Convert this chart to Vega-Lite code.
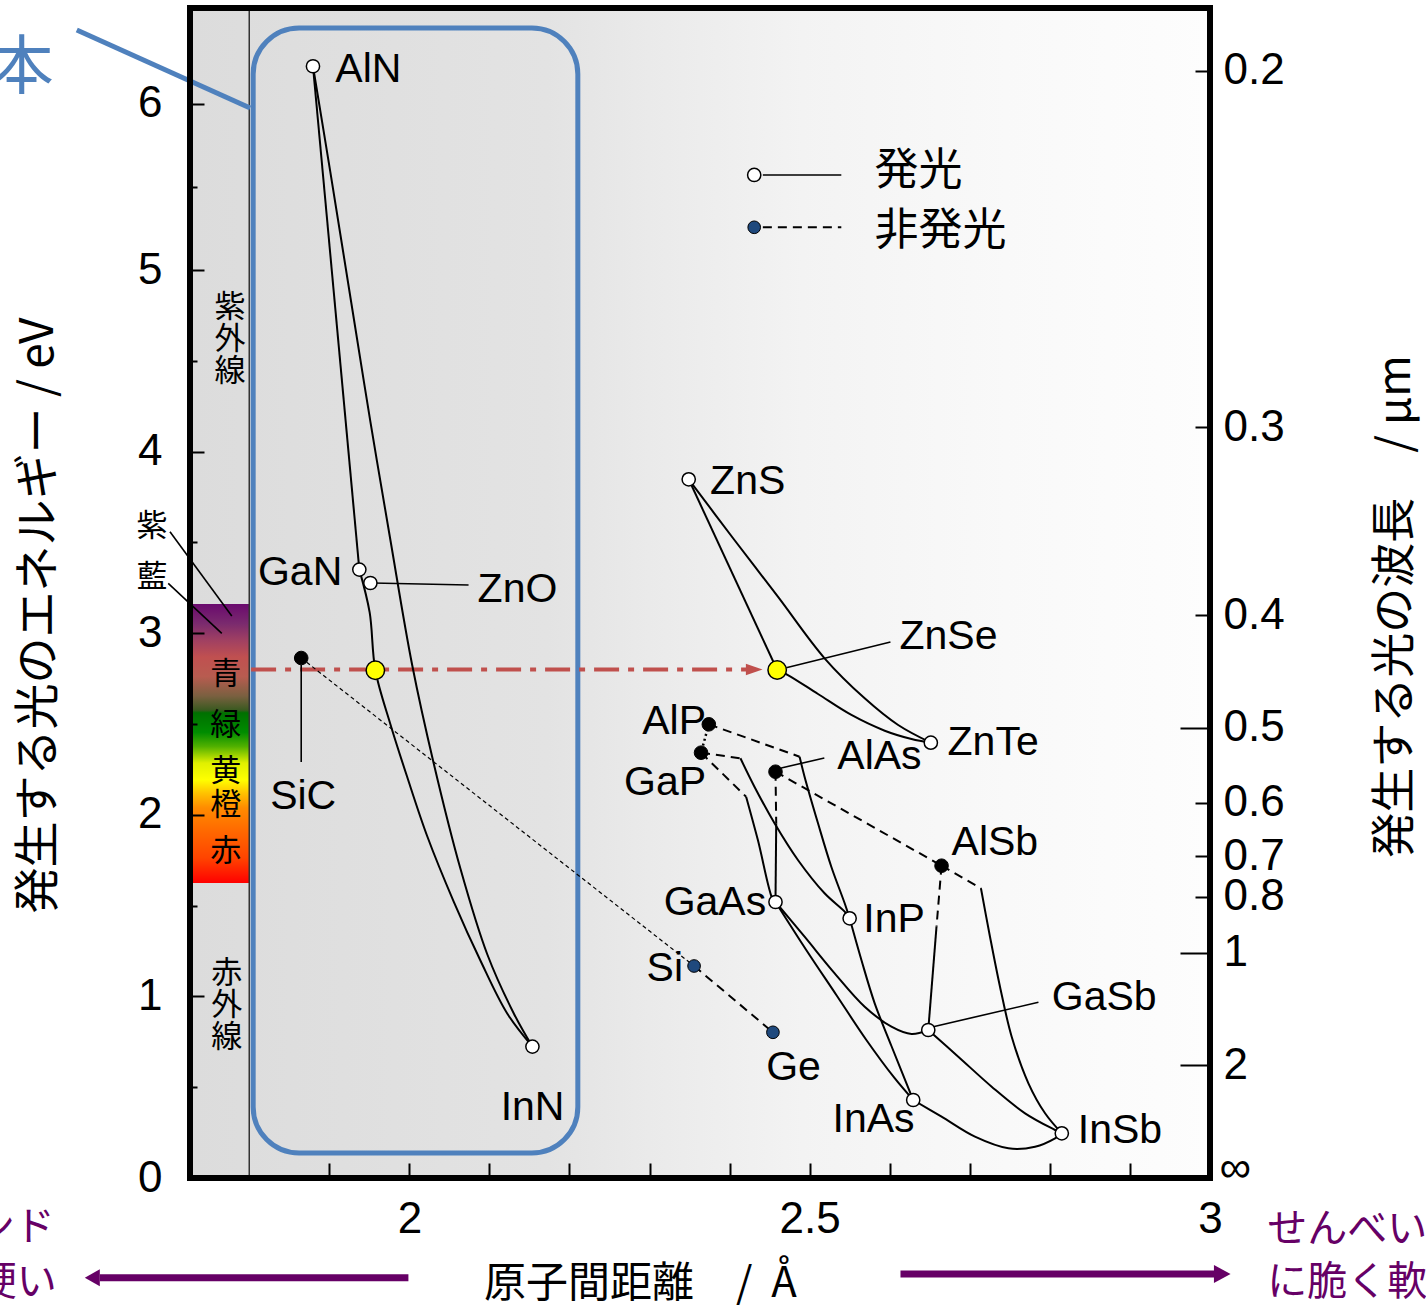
{
 "$schema": "https://vega.github.io/schema/vega-lite/v6.json",
 "width": 1020,
 "height": 1170,
 "autosize": {"type": "none"},
 "padding": {"left": 190, "top": 8, "right": 216, "bottom": 129},
 "background": "white",
 "config": {"view": {"stroke": null}, "font": "Liberation Sans"},
 "datasets": {
  "bg": [{"x": 1.726, "x2": 3, "y": 0, "y2": 6.578}],
  "cbar": [{"x": 1.726, "x2": 1.8, "y": 1.624, "y2": 3.161}],
  "vline": [{"x": 1.8, "y": 0, "y2": 6.578}],
  "box": [{"x": 1.8049, "x2": 2.2104, "y": 0.1377, "y2": 6.458}],
  "bline": [{"o": 0, "x": 1.5846, "y": 6.4458}, {"o": 1, "x": 1.8011, "y": 5.9759}],
  "red": [{"o": 0, "x": 1.8023, "y": 2.8}, {"o": 1, "x": 2.4244, "y": 2.8}],
  "redhead": [{"x": 2.4307, "y": 2.8}],
  "parr": [{"id": "L", "o": 0, "x": 1.9988, "y": -0.549}, {"id": "L", "o": 1, "x": 1.6134, "y": -0.549}, {"id": "R", "o": 0, "x": 2.6134, "y": -0.5286}, {"id": "R", "o": 1, "x": 3.0051, "y": -0.5286}],
  "pheadL": [{"x": 1.604, "y": -0.549}],
  "pheadR": [{"x": 3.0153, "y": -0.5286}],
  "lead": [
   {"id": "zno", "o": 0, "x": 1.9538, "y": 3.2764}, {"id": "zno", "o": 1, "x": 2.0739, "y": 3.2654},
   {"id": "sic", "o": 0, "x": 1.8649, "y": 2.8249}, {"id": "sic", "o": 1, "x": 1.8649, "y": 2.2907},
   {"id": "znse", "o": 0, "x": 2.4707, "y": 2.81}, {"id": "znse", "o": 1, "x": 2.6009, "y": 2.9515},
   {"id": "alas", "o": 0, "x": 2.4644, "y": 2.2577}, {"id": "alas", "o": 1, "x": 2.5183, "y": 2.3128},
   {"id": "gasb", "o": 0, "x": 2.6543, "y": 0.8332}, {"id": "gasb", "o": 1, "x": 2.7857, "y": 0.9675},
   {"id": "vio", "o": 0, "x": 1.701, "y": 3.5589}, {"id": "vio", "o": 1, "x": 1.7782, "y": 3.0947},
   {"id": "ind", "o": 0, "x": 1.6988, "y": 3.2748}, {"id": "ind", "o": 1, "x": 1.7657, "y": 2.9994},
   {"id": "leg", "o": 0, "x": 2.4415, "y": 5.5723}, {"id": "leg", "o": 1, "x": 2.5395, "y": 5.5723}
  ],
  "solid": [
   {"id": "c1", "o": 0, "x": 1.8796, "y": 6.2271}, {"id": "c1", "o": 1, "x": 1.9375, "y": 3.3502},
   {"id": "c2", "o": 0, "x": 1.8796, "y": 6.2271}, {"id": "c2", "o": 1, "x": 1.9012, "y": 5.5928}, {"id": "c2", "o": 2, "x": 1.9275, "y": 4.8183}, {"id": "c2", "o": 3, "x": 1.9513, "y": 4.1652}, {"id": "c2", "o": 4, "x": 1.9763, "y": 3.5132}, {"id": "c2", "o": 5, "x": 2.0035, "y": 2.8249}, {"id": "c2", "o": 6, "x": 2.0305, "y": 2.2814}, {"id": "c2", "o": 7, "x": 2.0639, "y": 1.7015}, {"id": "c2", "o": 8, "x": 2.0974, "y": 1.2307}, {"id": "c2", "o": 9, "x": 2.1306, "y": 0.9047}, {"id": "c2", "o": 10, "x": 2.1537, "y": 0.7236},
   {"id": "c3", "o": 0, "x": 1.9375, "y": 3.3502}, {"id": "c3", "o": 1, "x": 1.9504, "y": 3.1145}, {"id": "c3", "o": 2, "x": 1.9575, "y": 2.7957}, {"id": "c3", "o": 3, "x": 1.9763, "y": 2.4989}, {"id": "c3", "o": 4, "x": 1.9972, "y": 2.2093}, {"id": "c3", "o": 5, "x": 2.0222, "y": 1.8833}, {"id": "c3", "o": 6, "x": 2.0555, "y": 1.5209}, {"id": "c3", "o": 7, "x": 2.089, "y": 1.1949}, {"id": "c3", "o": 8, "x": 2.1224, "y": 0.9047}, {"id": "c3", "o": 9, "x": 2.1537, "y": 0.7236},
   {"id": "c6", "o": 0, "x": 2.3489, "y": 3.8475}, {"id": "c6", "o": 1, "x": 2.4594, "y": 2.7974},
   {"id": "c7", "o": 0, "x": 2.4594, "y": 2.7974}, {"id": "c7", "o": 1, "x": 2.4728, "y": 2.7698}, {"id": "c7", "o": 2, "x": 2.5104, "y": 2.6652}, {"id": "c7", "o": 3, "x": 2.5521, "y": 2.5496}, {"id": "c7", "o": 4, "x": 2.5937, "y": 2.4631}, {"id": "c7", "o": 5, "x": 2.6272, "y": 2.4174}, {"id": "c7", "o": 6, "x": 2.6513, "y": 2.397},
   {"id": "c8", "o": 0, "x": 2.3489, "y": 3.8475}, {"id": "c8", "o": 1, "x": 2.406, "y": 3.5132}, {"id": "c8", "o": 2, "x": 2.4603, "y": 3.201}, {"id": "c8", "o": 3, "x": 2.5186, "y": 2.8618}, {"id": "c8", "o": 4, "x": 2.5687, "y": 2.6415}, {"id": "c8", "o": 5, "x": 2.6105, "y": 2.4945}, {"id": "c8", "o": 6, "x": 2.6513, "y": 2.397},
   {"id": "c10", "o": 0, "x": 2.4874, "y": 2.3199}, {"id": "c10", "o": 1, "x": 2.4936, "y": 2.2098}, {"id": "c10", "o": 2, "x": 2.5104, "y": 1.9532}, {"id": "c10", "o": 3, "x": 2.527, "y": 1.7142}, {"id": "c10", "o": 4, "x": 2.5437, "y": 1.5127}, {"id": "c10", "o": 5, "x": 2.5499, "y": 1.4301},
   {"id": "c11", "o": 0, "x": 2.4135, "y": 2.3111}, {"id": "c11", "o": 1, "x": 2.431, "y": 2.1548}, {"id": "c11", "o": 2, "x": 2.4561, "y": 1.9532}, {"id": "c11", "o": 3, "x": 2.4853, "y": 1.7511}, {"id": "c11", "o": 4, "x": 2.5186, "y": 1.5677}, {"id": "c11", "o": 5, "x": 2.5437, "y": 1.4664}, {"id": "c11", "o": 6, "x": 2.5499, "y": 1.4301},
   {"id": "c12", "o": 0, "x": 2.4206, "y": 2.0997}, {"id": "c12", "o": 1, "x": 2.4353, "y": 1.8612}, {"id": "c12", "o": 2, "x": 2.4541, "y": 1.5308}, {"id": "c12", "o": 3, "x": 2.4573, "y": 1.5198},
   {"id": "c13", "o": 0, "x": 2.4582, "y": 1.9532}, {"id": "c13", "o": 1, "x": 2.4573, "y": 1.5198},
   {"id": "c15", "o": 0, "x": 2.7139, "y": 1.5953}, {"id": "c15", "o": 1, "x": 2.7252, "y": 1.3288}, {"id": "c15", "o": 2, "x": 2.7377, "y": 1.0534}, {"id": "c15", "o": 3, "x": 2.7523, "y": 0.7781}, {"id": "c15", "o": 4, "x": 2.7732, "y": 0.5215}, {"id": "c15", "o": 5, "x": 2.794, "y": 0.3563}, {"id": "c15", "o": 6, "x": 2.8149, "y": 0.2461},
   {"id": "c16", "o": 0, "x": 2.6584, "y": 1.3838}, {"id": "c16", "o": 1, "x": 2.6481, "y": 0.815},
   {"id": "c17", "o": 0, "x": 2.4573, "y": 1.5198}, {"id": "c17", "o": 1, "x": 2.4957, "y": 1.2555}, {"id": "c17", "o": 2, "x": 2.5333, "y": 1.0077}, {"id": "c17", "o": 3, "x": 2.5708, "y": 0.7599}, {"id": "c17", "o": 4, "x": 2.6059, "y": 0.5507}, {"id": "c17", "o": 5, "x": 2.6293, "y": 0.4295},
   {"id": "c18", "o": 0, "x": 2.4573, "y": 1.5198}, {"id": "c18", "o": 1, "x": 2.4936, "y": 1.3288}, {"id": "c18", "o": 2, "x": 2.5312, "y": 1.1272}, {"id": "c18", "o": 3, "x": 2.5687, "y": 0.9433}, {"id": "c18", "o": 4, "x": 2.6021, "y": 0.8332}, {"id": "c18", "o": 5, "x": 2.6272, "y": 0.793}, {"id": "c18", "o": 6, "x": 2.6481, "y": 0.815},
   {"id": "c19", "o": 0, "x": 2.5499, "y": 1.4301}, {"id": "c19", "o": 1, "x": 2.5646, "y": 1.2004}, {"id": "c19", "o": 2, "x": 2.5812, "y": 0.962}, {"id": "c19", "o": 3, "x": 2.6021, "y": 0.7269}, {"id": "c19", "o": 4, "x": 2.6293, "y": 0.4295},
   {"id": "c20", "o": 0, "x": 2.6481, "y": 0.815}, {"id": "c20", "o": 1, "x": 2.6856, "y": 0.668}, {"id": "c20", "o": 2, "x": 2.7273, "y": 0.5028}, {"id": "c20", "o": 3, "x": 2.769, "y": 0.3563}, {"id": "c20", "o": 4, "x": 2.8065, "y": 0.2643}, {"id": "c20", "o": 5, "x": 2.8149, "y": 0.2461},
   {"id": "c21", "o": 0, "x": 2.6293, "y": 0.4295}, {"id": "c21", "o": 1, "x": 2.6647, "y": 0.3376}, {"id": "c21", "o": 2, "x": 2.7064, "y": 0.2274}, {"id": "c21", "o": 3, "x": 2.7482, "y": 0.1635}, {"id": "c21", "o": 4, "x": 2.7815, "y": 0.1724}, {"id": "c21", "o": 5, "x": 2.8065, "y": 0.2186}, {"id": "c21", "o": 6, "x": 2.8149, "y": 0.2461}
  ],
  "dashed": [
   {"id": "d10", "o": 0, "x": 2.374, "y": 2.4983}, {"id": "d10", "o": 1, "x": 2.4874, "y": 2.3199},
   {"id": "d11", "o": 0, "x": 2.3643, "y": 2.342}, {"id": "d11", "o": 1, "x": 2.4135, "y": 2.3111},
   {"id": "d12", "o": 0, "x": 2.3643, "y": 2.342}, {"id": "d12", "o": 1, "x": 2.4206, "y": 2.0997},
   {"id": "d13", "o": 0, "x": 2.4573, "y": 2.2373}, {"id": "d13", "o": 1, "x": 2.4582, "y": 1.9532},
   {"id": "d14", "o": 0, "x": 2.4573, "y": 2.2373}, {"id": "d14", "o": 1, "x": 2.6647, "y": 1.7197},
   {"id": "d15", "o": 0, "x": 2.6647, "y": 1.7197}, {"id": "d15", "o": 1, "x": 2.7139, "y": 1.5953},
   {"id": "d16", "o": 0, "x": 2.6647, "y": 1.7197}, {"id": "d16", "o": 1, "x": 2.6584, "y": 1.3838},
   {"id": "d5", "o": 0, "x": 2.3556, "y": 1.1674}, {"id": "d5", "o": 1, "x": 2.4541, "y": 0.8023},
   {"id": "dleg", "o": 0, "x": 2.4415, "y": 5.2572}, {"id": "dleg", "o": 1, "x": 2.5395, "y": 5.2572}
  ],
  "thin": [{"id": "t4", "o": 0, "x": 1.8649, "y": 2.8634}, {"id": "t4", "o": 1, "x": 2.3556, "y": 1.1674}],
  "dotted": [{"id": "p9", "o": 0, "x": 2.374, "y": 2.4983}, {"id": "p9", "o": 1, "x": 2.3643, "y": 2.342}],
  "white": [
   {"n": "AlN", "x": 1.8796, "y": 6.2271}, {"n": "GaN", "x": 1.9375, "y": 3.3502}, {"n": "ZnO", "x": 1.9513, "y": 3.2764}, {"n": "InN", "x": 2.1537, "y": 0.7236},
   {"n": "ZnS", "x": 2.3489, "y": 3.8475}, {"n": "ZnTe", "x": 2.6513, "y": 2.397}, {"n": "GaAs", "x": 2.4573, "y": 1.5198}, {"n": "InP", "x": 2.5499, "y": 1.4301},
   {"n": "GaSb", "x": 2.6481, "y": 0.815}, {"n": "InAs", "x": 2.6293, "y": 0.4295}, {"n": "InSb", "x": 2.8149, "y": 0.2461}, {"n": "legend", "x": 2.4307, "y": 5.5723}
  ],
  "black": [
   {"n": "SiC", "x": 1.8649, "y": 2.8634}, {"n": "AlP", "x": 2.374, "y": 2.4983}, {"n": "GaP", "x": 2.3643, "y": 2.342}, {"n": "AlAs", "x": 2.4573, "y": 2.2373}, {"n": "AlSb", "x": 2.6647, "y": 1.7197}
  ],
  "yellow": [{"n": "InGaN", "x": 1.9575, "y": 2.7957}, {"n": "ZnSe", "x": 2.4594, "y": 2.7974}],
  "navy": [{"n": "Si", "x": 2.3556, "y": 1.1674}, {"n": "Ge", "x": 2.4541, "y": 0.8023}, {"n": "legend", "x": 2.4307, "y": 5.2572}],
  "labL": [
   {"t": "AlN", "x": 1.9075, "y": 6.2048}, {"t": "ZnO", "x": 2.0852, "y": 3.2379}, {"t": "SiC", "x": 1.8261, "y": 2.098}, {"t": "InN", "x": 2.114, "y": 0.3855},
   {"t": "ZnS", "x": 2.3756, "y": 3.8326}, {"t": "ZnSe", "x": 2.6121, "y": 2.9791}, {"t": "ZnTe", "x": 2.6722, "y": 2.3954}, {"t": "AlAs", "x": 2.5345, "y": 2.3183},
   {"t": "AlSb", "x": 2.6772, "y": 1.8447}, {"t": "InP", "x": 2.567, "y": 1.4207}, {"t": "Ge", "x": 2.4457, "y": 0.6057}, {"t": "GaSb", "x": 2.8024, "y": 0.9912}, {"t": "InSb", "x": 2.8349, "y": 0.2588}
  ],
  "labR": [
   {"t": "GaN", "x": 1.9162, "y": 3.3315}, {"t": "AlP", "x": 2.3706, "y": 2.511}, {"t": "GaP", "x": 2.3706, "y": 2.1751}, {"t": "GaAs", "x": 2.4457, "y": 1.5143}, {"t": "Si", "x": 2.3418, "y": 1.1509}, {"t": "InAs", "x": 2.631, "y": 0.3194}
  ],
  "jpc": [
   {"t": "青", "x": 1.7707, "y": 2.7698}, {"t": "緑", "x": 1.7707, "y": 2.489}, {"t": "黄", "x": 1.7707, "y": 2.2357}, {"t": "橙", "x": 1.7707, "y": 2.0485}, {"t": "赤", "x": 1.7707, "y": 1.7952},
   {"t": "紫", "x": 1.6784, "y": 3.5848}, {"t": "藍", "x": 1.6784, "y": 3.304}
  ],
  "jpm": [{"t": "紫\n外\n線", "x": 1.776, "y": 4.7935}, {"t": "赤\n外\n線", "x": 1.7719, "y": 1.1233}],
  "legt": [{"t": "発光", "x": 2.5808, "y": 5.5873}, {"t": "非発光", "x": 2.5808, "y": 5.2259}],
  "purR": [{"t": "ダイヤモンド", "x": 1.557, "y": -0.2753}, {"t": "のように硬い", "x": 1.5595, "y": -0.5782}],
  "purL": [{"t": "せんべいのよう", "x": 3.0715, "y": -0.2863}, {"t": "に脆く軟らかい", "x": 3.0715, "y": -0.5782}],
  "hon": [{"t": "本", "x": 1.5157, "y": 6.211}]
 },
 "encoding": {
  "x": {"field": "x", "type": "quantitative", "scale": {"domain": [1.726, 3], "nice": false, "zero": false}, "axis": null},
  "y": {"field": "y", "type": "quantitative", "scale": {"domain": [0, 5, 6.578], "range": [1170, 262, 0], "nice": false, "zero": false}, "axis": null}
 },
 "resolve": {"scale": {"x": "shared", "y": "shared"}, "axis": {"x": "independent", "y": "independent"}},
 "layer": [
  {
   "data": {"name": "bg"},
   "mark": {"type": "rect", "color": {"gradient": "linear", "x1": 0, "y1": 0, "x2": 1, "y2": 0, "stops": [{"offset": 0, "color": "#dcdcdc"}, {"offset": 0.35, "color": "#e3e3e3"}, {"offset": 0.45, "color": "#eaeaea"}, {"offset": 0.6, "color": "#f3f3f3"}, {"offset": 0.8, "color": "#f9f9f9"}, {"offset": 1, "color": "#fdfdfd"}]}},
   "encoding": {
    "x": {"field": "x", "type": "quantitative", "scale": {"domain": [1.726, 3], "nice": false, "zero": false},
     "axis": {"orient": "bottom", "values": [1.9, 2, 2.1, 2.2, 2.3, 2.4, 2.5, 2.6, 2.7, 2.8, 2.9, 3], "labelExpr": "datum.value == 2 ? '2' : datum.value == 2.5 ? '2.5' : datum.value == 3 ? '3' : ''", "tickSize": -15, "tickWidth": 2, "tickColor": "black", "domain": false, "grid": false, "labelFont": "Liberation Sans", "labelFontSize": 44, "labelColor": "black", "labelPadding": 34, "labelFlush": false, "labelOverlap": false, "zindex": 1, "title": "原子間距離　/ \u00a0Å", "titleFont": "Noto Sans CJK JP", "titleFontSize": 42, "titleFontWeight": "normal", "titleColor": "black", "titleX": 450, "titleY": 105, "titleAlign": "center", "titleBaseline": "middle"}},
    "x2": {"field": "x2"},
    "y": {"field": "y", "type": "quantitative", "scale": {"domain": [0, 5, 6.578], "range": [1170, 262, 0], "nice": false, "zero": false},
     "axis": {"orient": "left", "values": [0, 1, 2, 3, 4, 5, 6], "tickSize": -14, "tickWidth": 2, "tickColor": "black", "domain": false, "grid": false, "labelFont": "Liberation Sans", "labelFontSize": 44, "labelColor": "black", "labelPadding": 42, "labelFlush": false, "labelOverlap": false, "zindex": 1, "title": "発生する光のエネルギー / eV", "titleFont": "Noto Sans CJK JP", "titleFontSize": 46, "titleFontWeight": "normal", "titleColor": "black", "titleAngle": 270, "titleX": -152, "titleY": 607, "titleAlign": "center", "titleBaseline": "middle"}},
    "y2": {"field": "y2"}
   }
  },
  {
   "data": {"name": "cbar"},
   "mark": {"type": "rect", "color": {"gradient": "linear", "x1": 0, "y1": 0, "x2": 0, "y2": 1, "stops": [{"offset": 0, "color": "#6a0a6e"}, {"offset": 0.07, "color": "#7a2a6e"}, {"offset": 0.13, "color": "#a04062"}, {"offset": 0.19, "color": "#c05050"}, {"offset": 0.26, "color": "#b85c50"}, {"offset": 0.33, "color": "#7a6040"}, {"offset": 0.38, "color": "#3a5a20"}, {"offset": 0.39, "color": "#007000"}, {"offset": 0.46, "color": "#008c00"}, {"offset": 0.51, "color": "#50b000"}, {"offset": 0.57, "color": "#e0f000"}, {"offset": 0.63, "color": "#ffff00"}, {"offset": 0.68, "color": "#ffc000"}, {"offset": 0.73, "color": "#ff8c00"}, {"offset": 0.81, "color": "#ff6a00"}, {"offset": 0.91, "color": "#ff4400"}, {"offset": 1, "color": "#ff0000"}]}},
   "encoding": {"x2": {"field": "x2"}, "y2": {"field": "y2"}}
  },
  {"data": {"name": "vline"}, "mark": {"type": "rule", "color": "#333333", "strokeWidth": 1.5}, "encoding": {"y2": {"field": "y2"}}},
  {"data": {"name": "box"}, "mark": {"type": "rect", "filled": false, "stroke": "#4f81bd", "strokeWidth": 5, "cornerRadius": 46}, "encoding": {"x2": {"field": "x2"}, "y2": {"field": "y2"}}},
  {"data": {"name": "bline"}, "mark": {"type": "line", "color": "#4f81bd", "strokeWidth": 5}, "encoding": {"order": {"field": "o", "type": "quantitative"}}},
  {"data": {"name": "red"}, "mark": {"type": "line", "color": "#c0504d", "strokeWidth": 4, "strokeDash": [25, 9, 6, 9]}, "encoding": {"order": {"field": "o", "type": "quantitative"}}},
  {"data": {"name": "redhead"}, "mark": {"type": "point", "shape": "M-1,-0.7L1,0L-1,0.7Z", "size": 279, "filled": true, "color": "#c0504d", "opacity": 1}},
  {"data": {"name": "parr"}, "mark": {"type": "line", "color": "#660066", "strokeWidth": 7}, "encoding": {"detail": {"field": "id", "type": "nominal"}, "order": {"field": "o", "type": "quantitative"}}},
  {"data": {"name": "pheadL"}, "mark": {"type": "point", "shape": "M1,-1.13L-1,0L1,1.13Z", "size": 225, "filled": true, "color": "#660066", "opacity": 1}},
  {"data": {"name": "pheadR"}, "mark": {"type": "point", "shape": "M-1,-1.08L1,0L-1,1.08Z", "size": 276, "filled": true, "color": "#660066", "opacity": 1}},
  {"data": {"name": "lead"}, "mark": {"type": "line", "color": "black", "strokeWidth": 1.6}, "encoding": {"detail": {"field": "id", "type": "nominal"}, "order": {"field": "o", "type": "quantitative"}}},
  {"data": {"name": "thin"}, "mark": {"type": "line", "color": "black", "strokeWidth": 1.2, "strokeDash": [4, 3]}, "encoding": {"detail": {"field": "id", "type": "nominal"}, "order": {"field": "o", "type": "quantitative"}}},
  {"data": {"name": "solid"}, "mark": {"type": "line", "color": "black", "strokeWidth": 2, "interpolate": "catmull-rom"}, "encoding": {"detail": {"field": "id", "type": "nominal"}, "order": {"field": "o", "type": "quantitative"}}},
  {"data": {"name": "dashed"}, "mark": {"type": "line", "color": "black", "strokeWidth": 2, "strokeDash": [9, 6]}, "encoding": {"detail": {"field": "id", "type": "nominal"}, "order": {"field": "o", "type": "quantitative"}}},
  {"data": {"name": "dotted"}, "mark": {"type": "line", "color": "black", "strokeWidth": 2.5, "strokeDash": [2, 3]}, "encoding": {"detail": {"field": "id", "type": "nominal"}, "order": {"field": "o", "type": "quantitative"}}},
  {"data": {"name": "white"}, "mark": {"type": "point", "shape": "circle", "filled": true, "fill": "white", "stroke": "black", "strokeWidth": 1.5, "size": 175, "opacity": 1}},
  {"data": {"name": "black"}, "mark": {"type": "point", "shape": "circle", "filled": true, "fill": "black", "stroke": "black", "strokeWidth": 1, "size": 185, "opacity": 1}},
  {"data": {"name": "yellow"}, "mark": {"type": "point", "shape": "circle", "filled": true, "fill": "#ffff00", "stroke": "black", "strokeWidth": 1.5, "size": 340, "opacity": 1}},
  {"data": {"name": "navy"}, "mark": {"type": "point", "shape": "circle", "filled": true, "fill": "#1f497d", "stroke": "black", "strokeWidth": 1, "size": 160, "opacity": 1}},
  {"data": {"name": "labL"}, "mark": {"type": "text", "align": "left", "baseline": "middle", "font": "Liberation Sans", "fontSize": 41, "color": "black"}, "encoding": {"text": {"field": "t", "type": "nominal"}}},
  {"data": {"name": "labR"}, "mark": {"type": "text", "align": "right", "baseline": "middle", "font": "Liberation Sans", "fontSize": 41, "color": "black"}, "encoding": {"text": {"field": "t", "type": "nominal"}}},
  {"data": {"name": "jpc"}, "mark": {"type": "text", "align": "center", "baseline": "middle", "font": "Noto Sans CJK JP", "fontSize": 31, "color": "black"}, "encoding": {"text": {"field": "t", "type": "nominal"}}},
  {"data": {"name": "jpm"}, "mark": {"type": "text", "align": "center", "baseline": "middle", "font": "Noto Sans CJK JP", "fontSize": 31, "lineBreak": "\n", "lineHeight": 32, "color": "black"}, "encoding": {"text": {"field": "t", "type": "nominal"}}},
  {"data": {"name": "legt"}, "mark": {"type": "text", "align": "left", "baseline": "middle", "font": "Noto Sans CJK JP", "fontSize": 44, "color": "black"}, "encoding": {"text": {"field": "t", "type": "nominal"}}},
  {"data": {"name": "purR"}, "mark": {"type": "text", "align": "right", "baseline": "middle", "font": "Noto Sans CJK JP", "fontSize": 40, "color": "#660066"}, "encoding": {"text": {"field": "t", "type": "nominal"}}},
  {"data": {"name": "purL"}, "mark": {"type": "text", "align": "left", "baseline": "middle", "font": "Noto Sans CJK JP", "fontSize": 40, "color": "#660066"}, "encoding": {"text": {"field": "t", "type": "nominal"}}},
  {"data": {"name": "hon"}, "mark": {"type": "text", "align": "center", "baseline": "middle", "font": "Noto Sans CJK JP", "fontSize": 64, "color": "#4f81bd"}, "encoding": {"text": {"field": "t", "type": "nominal"}}},
  {"data": {"name": "bg"}, "mark": {"type": "rect", "filled": false, "stroke": "black", "strokeWidth": 6}, "encoding": {"x2": {"field": "x2"}, "y2": {"field": "y2"}}},
  {
   "data": {"name": "bg"},
   "mark": {"type": "point", "opacity": 0},
   "encoding": {
    "y": {"field": "y", "type": "quantitative", "scale": {"domain": [0, 5, 6.578], "range": [1170, 262, 0], "nice": false, "zero": false},
     "axis": {"orient": "left", "values": [0.5, 1.5, 2.5, 3.5, 4.5, 5.5], "tickSize": -7, "tickWidth": 2, "tickColor": "black", "domain": false, "grid": false, "labels": false, "title": null, "zindex": 1}}
   }
  },
  {
   "data": {"name": "bg"},
   "mark": {"type": "point", "opacity": 0},
   "encoding": {
    "y": {"field": "y", "type": "quantitative", "scale": {"domain": [0, 5, 6.578], "range": [1170, 262, 0], "nice": false, "zero": false},
     "axis": {"orient": "right", "values": [6.2, 4.1333, 3.1, 2.0667, 1.7714, 1.55], "labelExpr": "datum.value > 6 ? '0.2' : datum.value > 4 ? '0.3' : datum.value > 3 ? '0.4' : datum.value > 2 ? '0.6' : datum.value > 1.6 ? '0.7' : '0.8'", "tickSize": -15, "tickWidth": 2, "tickColor": "black", "domain": false, "grid": false, "labelFont": "Liberation Sans", "labelFontSize": 44, "labelColor": "black", "labelPadding": 28, "labelFlush": false, "labelOverlap": false, "zindex": 1, "title": "発生する光の波長　/ μm", "titleFont": "Noto Sans CJK JP", "titleFontSize": 45, "titleFontWeight": "normal", "titleColor": "black", "titleAngle": 270, "titleX": 185, "titleY": 598, "titleAlign": "center", "titleBaseline": "middle"}}
   }
  },
  {
   "data": {"name": "bg"},
   "mark": {"type": "point", "opacity": 0},
   "encoding": {
    "y": {"field": "y", "type": "quantitative", "scale": {"domain": [0, 5, 6.578], "range": [1170, 262, 0], "nice": false, "zero": false},
     "axis": {"orient": "right", "values": [2.48, 1.24, 0.62], "labelExpr": "datum.value > 2 ? '0.5' : datum.value > 1 ? '1' : '2'", "tickSize": -30, "tickWidth": 2, "tickColor": "black", "domain": false, "grid": false, "labelFont": "Liberation Sans", "labelFontSize": 44, "labelColor": "black", "labelPadding": 43, "labelFlush": false, "labelOverlap": false, "zindex": 1, "title": null}}
   }
  },
  {
   "data": {"name": "bg"},
   "mark": {"type": "point", "opacity": 0},
   "encoding": {
    "y": {"field": "y", "type": "quantitative", "scale": {"domain": [0, 5, 6.578], "range": [1170, 262, 0], "nice": false, "zero": false},
     "axis": {"orient": "right", "values": [0], "labelExpr": "'∞'", "ticks": false, "domain": false, "grid": false, "labelFont": "Liberation Sans", "labelFontSize": 44, "labelColor": "black", "labelPadding": 9, "labelOffset": -10, "labelFlush": false, "labelOverlap": false, "zindex": 1, "title": null}}
   }
  }
 ]
}
